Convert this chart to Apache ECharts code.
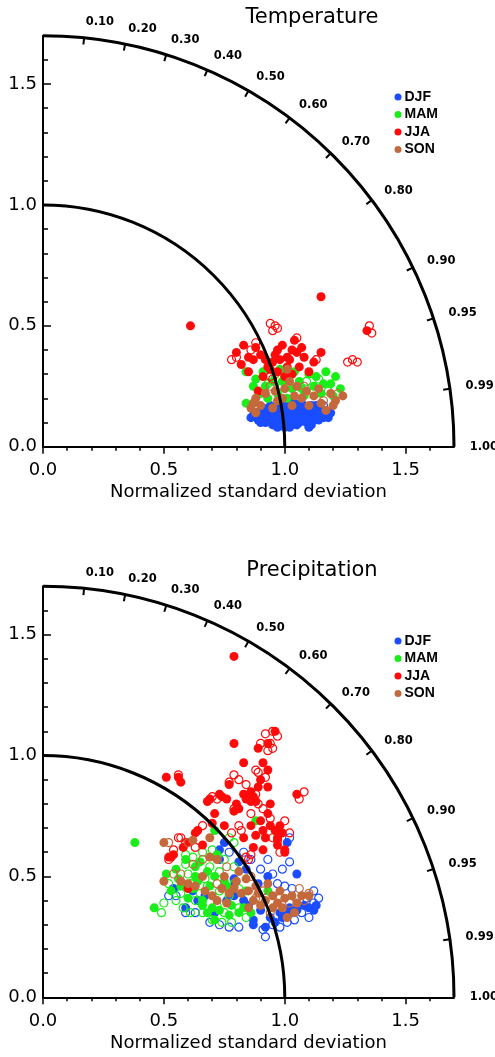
<!DOCTYPE html>
<html>
<head>
<meta charset="utf-8">
<title>Taylor diagrams</title>
<script src="https://cdn.jsdelivr.net/npm/echarts@6/dist/echarts.min.js"></script>
<style>
  html, body { margin: 0; padding: 0; background: #fff; }
  #chart { width: 495px; height: 1057px; }
</style>
</head>
<body>
<div id="chart"></div>
<script>
// ---- axis setup -------------------------------------------------------
const RMAX = 1.7;
const minorTicks = [0, 0.1, 0.2, 0.3, 0.4, 0.5, 0.6, 0.7, 0.8, 0.9, 1.0, 1.1, 1.2, 1.3, 1.4, 1.5, 1.6];
const majorTicks = [0, 0.5, 1.0, 1.5];
const refArcs = [1.0, 1.7];
const corrValues = [0.1, 0.2, 0.3, 0.4, 0.5, 0.6, 0.7, 0.8, 0.9, 0.95, 0.99, 1.0];
const corrLabels = ['0.10', '0.20', '0.30', '0.40', '0.50', '0.60', '0.70', '0.80', '0.90', '0.95', '0.99', '1.00'];
const seasons = ['DJF', 'MAM', 'JJA', 'SON'];
const seasonColors = ['#1a4dff', '#19ee19', '#ff0a0a', '#c4693c'];
const panelTitles = ['Temperature', 'Precipitation'];

// ---- Temperature: [x, y] in normalized std-dev units --------------------
const tempDJF = [[0.88,0.14],[0.90,0.12],[0.91,0.16],[0.92,0.10],[0.93,0.13],[0.94,0.17],[0.95,0.09],[0.96,0.12],[0.97,0.15],[0.98,0.18],[0.98,0.10],[0.99,0.13],[1.00,0.08],[1.00,0.16],[1.01,0.11],[1.02,0.14],[1.02,0.19],[1.03,0.09],[1.04,0.12],[1.05,0.16],[1.06,0.10],[1.06,0.13],[1.07,0.18],[1.08,0.11],[1.09,0.15],[1.10,0.12],[1.11,0.09],[1.12,0.14],[1.13,0.17],[1.14,0.11],[1.15,0.13],[1.17,0.15],[1.18,0.12],[0.95,0.14],[0.97,0.11],[1.03,0.16],[1.01,0.18],[0.93,0.11],[1.08,0.14],[1.11,0.17],
  [0.89,0.11],[0.91,0.13],[0.94,0.11],[0.96,0.10],[0.99,0.16],[1.00,0.12],[1.03,0.13],[1.04,0.15],[1.05,0.09],[1.07,0.12],[1.09,0.10],[1.10,0.16],[1.12,0.11],[1.14,0.15],[1.16,0.12],[0.92,0.15],[0.97,0.08],[1.02,0.08],[1.06,0.17],[1.13,0.13],[0.98,0.14],[1.01,0.15],[1.05,0.13],[0.95,0.12],[1.08,0.16],[1.19,0.14],[0.99,0.10],[1.04,0.18],[0.90,0.10],[1.10,0.08],
  [0.87,0.13],[0.86,0.12]];
const tempDJFopen = [[0.96,0.16],[1.04,0.10],[1.12,0.12],[0.90,0.15],[1.16,0.17]];
const tempMAM = [[0.84,0.31],[0.88,0.28],[0.84,0.18],[0.91,0.31],[0.95,0.27],[0.97,0.22],[1.00,0.29],[1.03,0.24],[1.06,0.27],[1.08,0.21],[1.10,0.30],[1.12,0.25],[1.15,0.22],[1.17,0.31],[1.19,0.26],[1.21,0.29],[1.23,0.24],[0.93,0.20],[1.01,0.20],[0.98,0.32],
  [0.87,0.25],[0.90,0.22],[0.92,0.25],[1.04,0.31],[1.07,0.24],[1.13,0.29],[1.16,0.26],[1.20,0.21],[0.99,0.27]];
const tempMAMopen = [[0.93,0.26],[0.99,0.25],[1.05,0.22],[1.09,0.27],[1.14,0.28],[1.18,0.23],[0.96,0.30],[1.02,0.31]];
const tempJJA = [[0.61,0.50],[1.15,0.62],[0.80,0.39],[0.82,0.34],[0.87,0.36],[0.88,0.41],[0.91,0.29],[0.89,0.23],[0.93,0.33],[0.95,0.35],[0.98,0.36],[1.01,0.37],[1.02,0.36],[1.01,0.33],[1.00,0.29],[1.04,0.44],[1.05,0.39],[1.08,0.37],[1.12,0.35],[1.15,0.39],[1.10,0.31],[1.34,0.48],[0.85,0.31],[0.97,0.40],[1.06,0.33],
  [0.83,0.42],[0.85,0.37],[0.90,0.38],[0.92,0.36],[0.96,0.38],[0.99,0.42],[1.03,0.40],[1.07,0.41],[0.94,0.32],[0.97,0.31],[1.03,0.30]];
const tempJJAopen = [[0.94,0.51],[0.96,0.50],[0.95,0.48],[0.97,0.49],[0.78,0.36],[0.80,0.37],[0.86,0.40],[0.88,0.43],[0.94,0.29],[0.95,0.28],[1.05,0.45],[1.26,0.35],[1.28,0.36],[1.30,0.35],[1.36,0.47],[1.35,0.50],[1.13,0.36]];
const tempSON = [[1.01,0.32],[0.88,0.20],[0.88,0.14],[1.05,0.25],[1.14,0.24],[1.21,0.19],[1.24,0.21],[1.10,0.17],[1.17,0.15],[0.92,0.22],[0.97,0.19],[1.00,0.24],[1.07,0.20],[1.12,0.21],[0.86,0.16],[0.95,0.16],[1.19,0.22],[1.03,0.17],
  [0.87,0.18],[0.90,0.17],[0.99,0.20],[1.04,0.21],[1.09,0.23],[1.15,0.18],[1.20,0.17],[1.02,0.27],[0.96,0.23]];
const tempSONopen = [[1.08,0.25],[1.16,0.19],[1.22,0.22],[0.94,0.25]];

// ---- Precipitation ------------------------------------------------------
const precDJF = [[0.79,0.49],[0.79,0.46],[0.54,0.45],[0.64,0.40],[0.59,0.37],[0.71,0.35],[0.79,0.42],[0.83,0.40],[0.87,0.32],[0.87,0.30],[0.92,0.29],[0.98,0.35],[0.99,0.33],[1.01,0.34],[1.05,0.36],[1.08,0.38],[1.12,0.36],[1.05,0.51],[0.81,0.56],[0.84,0.53],[0.73,0.57],[1.01,0.64],[0.75,0.64],[0.73,0.61],
  [0.90,0.36],[0.94,0.33],[0.96,0.31],[1.02,0.37],[1.10,0.37],[1.13,0.38],[0.85,0.38],[0.76,0.40],[0.67,0.42],[0.62,0.44],[0.89,0.47],[0.93,0.50]];
const precDJFopen = [[1.02,0.56],[0.52,0.42],[0.55,0.42],[0.59,0.35],[0.63,0.35],[0.77,0.29],[0.81,0.29],[0.91,0.28],[0.92,0.25],[0.97,0.47],[1.00,0.46],[1.03,0.45],[1.12,0.44],[1.12,0.39],[1.07,0.35],[1.01,0.31],[0.90,0.53],[0.86,0.57],[1.02,0.66],[0.77,0.60],[0.83,0.60],
  [0.95,0.30],[0.98,0.29],[1.04,0.32],[1.09,0.41],[1.14,0.41],[1.10,0.33],[0.95,0.51],[0.99,0.53],[0.93,0.57],[0.69,0.31],[0.73,0.30]];
const precMAM = [[0.88,0.73],[0.71,0.69],[0.51,0.51],[0.63,0.54],[0.65,0.56],[0.68,0.52],[0.72,0.59],[0.75,0.48],[0.76,0.46],[0.66,0.40],[0.70,0.37],[0.71,0.32],[0.77,0.34],[0.81,0.35],[0.86,0.35],[0.93,0.44],[0.46,0.37],[0.57,0.46],[0.66,0.38],
  [0.53,0.44],[0.56,0.49],[0.62,0.45],[0.64,0.48],[0.69,0.46],[0.71,0.50],[0.74,0.45],[0.78,0.38],[0.83,0.37],[0.68,0.35],[0.73,0.36],[0.60,0.41],[0.55,0.53],[0.59,0.57],[0.63,0.50],[0.84,0.44],
  [0.38,0.64]];
const precMAMopen = [[0.50,0.39],[0.49,0.35],[0.59,0.55],[0.60,0.51],[0.61,0.47],[0.67,0.49],[0.69,0.54],[0.73,0.44],[0.77,0.42],[0.70,0.32],[0.74,0.31],[0.61,0.35],[0.58,0.37],[0.79,0.47],[0.75,0.57],[0.79,0.54],[0.65,0.43],[0.81,0.37],[0.77,0.66],[0.79,0.64],[0.59,0.59],
  [0.52,0.47],[0.55,0.40],[0.57,0.43],[0.63,0.40],[0.66,0.35],[0.72,0.38],[0.75,0.35],[0.78,0.31],[0.84,0.33],[0.62,0.58],[0.66,0.60],[0.70,0.61],[0.73,0.52],[0.68,0.46],[0.81,0.45]];
const precJJA = [[0.79,1.41],[0.79,1.05],[0.96,1.10],[0.89,1.03],[0.93,1.05],[0.83,0.97],[0.91,0.97],[0.93,0.94],[0.51,0.91],[0.56,0.91],[0.57,0.89],[0.77,0.88],[0.90,0.90],[0.89,0.87],[0.93,0.87],[0.86,0.85],[0.84,0.82],[0.87,0.83],[0.88,0.81],[0.86,0.81],[0.73,0.84],[0.74,0.83],[0.69,0.82],[0.68,0.81],[0.81,0.78],[0.79,0.77],[0.71,0.76],[1.05,0.84],[0.94,0.80],[0.91,0.69],[0.94,0.71],[0.96,0.69],[0.98,0.71],[0.97,0.66],[0.92,0.66],[0.83,0.66],[0.88,0.67],[1.00,0.61],[0.97,0.63],[0.64,0.69],[0.63,0.68],[0.52,0.58],[0.54,0.59],[0.53,0.58],[1.00,0.60],[0.60,0.45],
  [0.80,0.80],[0.83,0.84],[0.76,0.82],[0.70,0.72],[0.75,0.71],[0.86,0.71],[0.90,0.73],[0.93,0.76],[0.99,0.68],[0.87,0.62],[0.91,0.61],[0.60,0.64],[0.58,0.62],[0.66,0.63]];
const precJJAopen = [[0.92,1.09],[0.95,1.10],[0.97,1.08],[0.90,1.05],[0.94,1.05],[0.95,1.03],[0.93,1.02],[0.88,0.94],[0.89,0.93],[0.56,0.92],[0.79,0.92],[0.81,0.90],[0.77,0.89],[0.88,0.84],[0.89,0.80],[0.72,0.82],[0.70,0.83],[0.79,0.78],[1.08,0.85],[1.06,0.82],[0.94,0.74],[0.95,0.66],[0.97,0.65],[0.82,0.69],[0.81,0.71],[0.66,0.71],[0.56,0.66],[0.57,0.66],[0.54,0.61],[0.52,0.57],[0.86,0.59],[0.84,0.58],[0.85,0.57],
  [0.84,0.88],[0.92,0.91],[0.86,0.76],[0.91,0.78],[1.00,0.73],[0.78,0.68],[0.63,0.62],[0.59,0.64],[0.98,0.60],[1.02,0.68]];
const precSON = [[0.69,0.58],[0.72,0.57],[0.50,0.48],[0.60,0.47],[0.67,0.44],[0.70,0.42],[0.72,0.40],[0.76,0.39],[0.81,0.52],[0.84,0.49],[0.88,0.46],[0.93,0.47],[0.92,0.40],[0.97,0.39],[0.99,0.37],[1.01,0.33],[1.03,0.42],[1.07,0.42],[1.10,0.42],[0.77,0.43],[0.87,0.40],[0.50,0.64],[0.62,0.65],[0.69,0.66],
  [0.74,0.45],[0.79,0.45],[0.82,0.43],[0.85,0.44],[0.89,0.43],[0.90,0.38],[0.95,0.42],[0.98,0.44],[1.00,0.41],[1.05,0.39],[1.04,0.35],[0.80,0.48],[0.75,0.50],[0.66,0.50],[0.63,0.46],[0.57,0.48],[0.95,0.37],[0.85,0.37]];
const precSONopen = [[1.06,0.45],[1.10,0.43],[0.54,0.51],[0.57,0.51],[0.88,0.41],[0.94,0.35],[0.52,0.64],[0.60,0.64],
  [0.62,0.55],[0.66,0.57],[0.76,0.54],[0.91,0.44],[0.98,0.41],[1.02,0.39],[1.08,0.40],[0.72,0.47],[0.86,0.50]];

const panels = [
  { filled: [tempDJF, tempMAM, tempJJA, tempSON], open: [tempDJFopen, tempMAMopen, tempJJAopen, tempSONopen] },
  { filled: [precDJF, precMAM, precJJA, precSON], open: [precDJFopen, precMAMopen, precJJAopen, precSONopen] }
];

// ---- layout -------------------------------------------------------------
const GRID_LEFT = 43, GRID_SIZE = 411;
const originY = [446.7, 997.3];
const legendTop = [90, 634];
const titleTop = [7, 560];
const FONT = 'DejaVu Sans';

const chart = echarts.init(document.getElementById('chart'), null, { renderer: 'canvas' });

const grids = [], xAxes = [], yAxes = [], series = [], titles = [], legends = [];

panels.forEach((panel, g) => {
  grids.push({ left: GRID_LEFT, top: originY[g] - GRID_SIZE, width: GRID_SIZE, height: GRID_SIZE });

  // main x axis: line, short ticks, labels and name
  xAxes.push({
    type: 'value', gridIndex: g, min: 0, max: RMAX, position: 'bottom',
    axisLine: { show: true, onZero: false, lineStyle: { color: '#000', width: 2 } },
    axisTick: { show: true, length: 4, customValues: minorTicks, lineStyle: { color: '#000', width: 1.5 } },
    axisLabel: { customValues: majorTicks, margin: 15, color: '#000', fontFamily: FONT, fontSize: 18,
                 formatter: v => v.toFixed(1) },
    splitLine: { show: false },
    name: 'Normalized standard deviation', nameLocation: 'middle', nameGap: 37,
    nameTextStyle: { color: '#000', fontFamily: FONT, fontSize: 18 }
  });
  // overlay x axis: longer ticks at the labelled values
  xAxes.push({
    type: 'value', gridIndex: g, min: 0, max: RMAX, position: 'bottom',
    axisLine: { show: false, onZero: false },
    axisTick: { show: true, length: 7, customValues: majorTicks, lineStyle: { color: '#000', width: 1.5 } },
    axisLabel: { show: false }, splitLine: { show: false }
  });
  yAxes.push({
    type: 'value', gridIndex: g, min: 0, max: RMAX, position: 'left',
    axisLine: { show: true, onZero: false, lineStyle: { color: '#000', width: 2 } },
    axisTick: { show: true, inside: true, length: 5, customValues: minorTicks, lineStyle: { color: '#000', width: 1.5 } },
    axisLabel: { customValues: majorTicks, margin: 6, color: '#000', fontFamily: FONT, fontSize: 18,
                 formatter: v => v.toFixed(1) },
    splitLine: { show: false }
  });
  yAxes.push({
    type: 'value', gridIndex: g, min: 0, max: RMAX, position: 'left',
    axisLine: { show: false, onZero: false },
    axisTick: { show: true, inside: true, length: 8, customValues: majorTicks, lineStyle: { color: '#000', width: 1.5 } },
    axisLabel: { show: false }, splitLine: { show: false }
  });

  const xi = 2 * g, yi = 2 * g;

  // scatter marks, filled and open, per season
  seasons.forEach((s, k) => {
    series.push({
      name: s, type: 'scatter', xAxisIndex: xi, yAxisIndex: yi, z: 2,
      symbol: 'circle', symbolSize: 9, data: panel.filled[k],
      itemStyle: { color: seasonColors[k], opacity: 1 }
    });
    series.push({
      name: s + ' open', type: 'scatter', xAxisIndex: xi, yAxisIndex: yi, z: 2,
      symbol: 'circle', symbolSize: 8, data: panel.open[k],
      itemStyle: { color: 'rgba(255,255,255,0)', borderColor: seasonColors[k], borderWidth: 1.2, opacity: 1 }
    });
  });

  // reference arcs of constant standard deviation
  series.push({
    type: 'custom', xAxisIndex: xi, yAxisIndex: yi, z: 5, silent: true, clip: false,
    data: refArcs.map(r => [r, 0]),
    renderItem(params, api) {
      const o = api.coord([0, 0]);
      const r = api.size([api.value(0), 0])[0];
      return {
        type: 'arc',
        shape: { cx: o[0], cy: o[1], r: r, startAngle: -Math.PI / 2, endAngle: 0, clockwise: true },
        style: { stroke: '#000', lineWidth: 3, fill: null }
      };
    }
  });

  // correlation ticks and labels around the outer arc
  series.push({
    type: 'custom', xAxisIndex: xi, yAxisIndex: yi, z: 5, silent: true, clip: false,
    data: corrValues.map(c => [c, 0]),
    renderItem(params, api) {
      const c = api.value(0);
      const th = Math.acos(c);
      const cs = Math.cos(th), sn = Math.sin(th);
      const pOut = api.coord([RMAX * cs, RMAX * sn]);
      const pIn = api.coord([(RMAX - 0.028) * cs, (RMAX - 0.028) * sn]);
      const pLab = api.coord([1.765 * cs, 1.765 * sn]);
      const children = [];
      if (c < 1) {
        children.push({
          type: 'line', shape: { x1: pOut[0], y1: pOut[1], x2: pIn[0], y2: pIn[1] },
          style: { stroke: '#000', lineWidth: 2 }
        });
      }
      children.push({
        type: 'text', x: pLab[0], y: pLab[1],
        style: { text: corrLabels[params.dataIndex], fill: '#000', fontFamily: FONT, fontSize: 11.5,
                 fontWeight: 'bold', align: 'left', verticalAlign: 'middle' }
      });
      return { type: 'group', children: children };
    }
  });

  titles.push({
    text: panelTitles[g], left: 312, top: titleTop[g], textAlign: 'center', padding: 0,
    textStyle: { color: '#000', fontFamily: FONT, fontSize: 21, fontWeight: 'normal' }
  });

  legends.push({
    data: seasons, orient: 'vertical', left: 394.5, top: legendTop[g], padding: 0,
    icon: 'circle', itemWidth: 7, itemHeight: 7, itemGap: 3.5, selectedMode: false,
    textStyle: { color: '#000', fontFamily: 'Liberation Sans', fontSize: 14, fontWeight: 'bold', lineHeight: 14, padding: [0, 0, 0, -2] }
  });
});

chart.setOption({
  animation: false,
  backgroundColor: '#fff',
  title: titles,
  legend: legends,
  grid: grids,
  xAxis: xAxes,
  yAxis: yAxes,
  series: series
});
</script>
</body>
</html>
